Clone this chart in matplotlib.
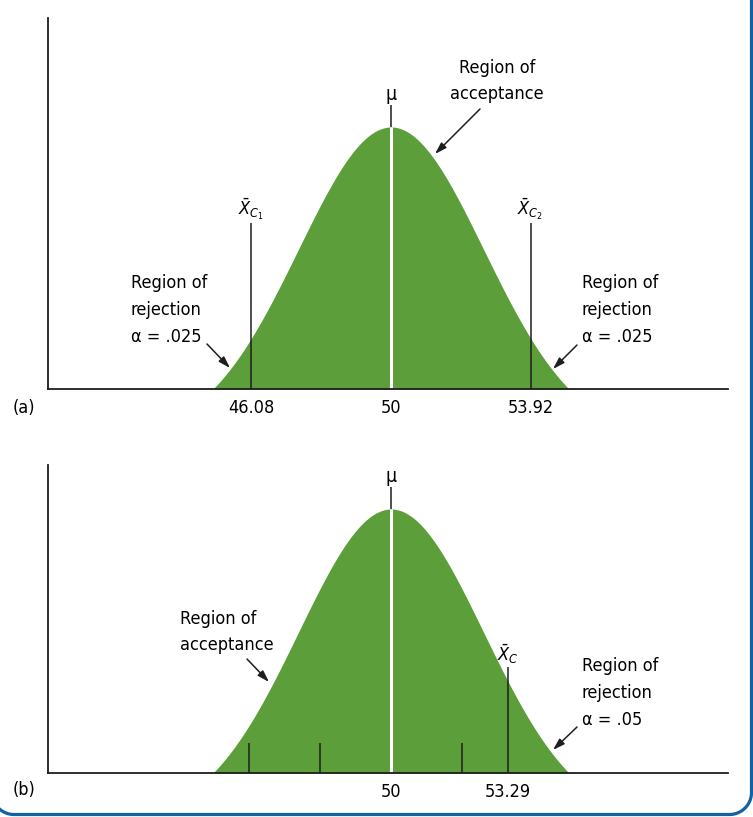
import numpy as np
import matplotlib
matplotlib.use("Agg")
import matplotlib.pyplot as plt
from matplotlib.lines import Line2D
from matplotlib.patches import FancyArrowPatch
from matplotlib.transforms import Affine2D

FAMILY = ["DejaVu Sans Condensed", "Liberation Sans Narrow", "DejaVu Sans"]
plt.rcParams["font.family"] = FAMILY
plt.rcParams["font.stretch"] = "condensed"
plt.rcParams["mathtext.fontset"] = "custom"
plt.rcParams["mathtext.rm"] = "DejaVu Sans Condensed"
plt.rcParams["mathtext.it"] = "DejaVu Sans Condensed:italic"

# sampling distribution of the mean, drawn schematically between 45 and 55
MU = 50.0
SHAPE_WIDTH = 2.6
CURVE_RANGE = (45.0, 55.0)

# (a) two-tailed test
CRIT_A = [46.08, 53.92]
CRIT_A_LABELS = [r"$\bar{X}_{C_1}$", r"$\bar{X}_{C_2}$"]
TICKS_A = [46.08, 50, 53.92]
TICK_LABELS_A = ["46.08", "50", "53.92"]

# (b) one-tailed test
CRIT_B = 53.29
MINOR_B = [46, 48, 52]
TICKS_B = [50, 53.29]
TICK_LABELS_B = ["50", "53.29"]

GREEN = "#5b9e3a"
INK = "#1e1e1e"
BLUE = "#1262a3"

W, H = 753, 817
PX_PER_UNIT = 35.6
X_LO = MU - (391 - 48) / PX_PER_UNIT
X_HI = MU + (728 - 391) / PX_PER_UNIT
FS = 13

xs = np.linspace(CURVE_RANGE[0], CURVE_RANGE[1], 500)
dens = np.exp(-0.5 * ((xs - MU) / SHAPE_WIDTH) ** 2)
edge = np.exp(-0.5 * ((CURVE_RANGE[1] - MU) / SHAPE_WIDTH) ** 2)
curve = (dens - edge) / (1 - edge)

fig = plt.figure(figsize=(W / 100, H / 100), dpi=100)
# pixel coordinates, origin top-left
pix = Affine2D().scale(1 / W, -1 / H).translate(0, 1) + fig.transFigure


def panel(top, bottom, peak, ticks, labels):
    ax = fig.add_axes([48 / W, 1 - bottom / H, (728 - 48) / W, (bottom - top) / H])
    ax.set_xlim(X_LO, X_HI)
    ax.set_ylim(0, (bottom - top) / (bottom - peak))
    ax.fill_between(xs, 0, curve, color=GREEN, lw=0)
    ax.vlines(MU, 0, 1, color="white", lw=2.2)
    ax.vlines(MU, 1, 1 + 22 / (bottom - peak), color=INK, lw=1.1)
    ax.annotate("μ", xy=(MU, 1 + 22 / (bottom - peak)), xytext=(0, 1),
                textcoords="offset points", ha="center", va="bottom", fontsize=FS + 1)
    for s in ["top", "right"]:
        ax.spines[s].set_visible(False)
    for s in ["left", "bottom"]:
        ax.spines[s].set_linewidth(1.3)
        ax.spines[s].set_color(INK)
    ax.set_yticks([])
    ax.set_xticks(ticks, labels, fontsize=FS)
    ax.tick_params(axis="x", length=0, pad=7)
    return ax, bottom - peak


ax_a, h_a = panel(18, 389, 127, TICKS_A, TICK_LABELS_A)
top_a = 166 / h_a
for v, lab in zip(CRIT_A, CRIT_A_LABELS):
    ax_a.vlines(v, 0, top_a, color=INK, lw=1.1)
    ax_a.annotate(lab, xy=(v, top_a), xytext=(0, 1), textcoords="offset points",
                  ha="center", va="bottom", fontsize=13)

ax_b, h_b = panel(465, 773, 509, TICKS_B, TICK_LABELS_B)
ax_b.vlines(MINOR_B, 0, 30 / h_b, color=INK, lw=1.1)
top_b = 106 / h_b
ax_b.vlines(CRIT_B, 0, top_b, color=INK, lw=1.1)
ax_b.annotate(r"$\bar{X}_C$", xy=(CRIT_B, top_b), xytext=(0, 1),
              textcoords="offset points", ha="center", va="bottom", fontsize=13)

txt = dict(transform=pix, fontsize=FS, va="center", linespacing=1.62)
fig.text(497, 81, "Region of\nacceptance", ha="center", multialignment="center", **txt)
fig.text(131, 310, "Region of\nrejection\nα = .025", ha="left", **txt)
fig.text(582, 310, "Region of\nrejection\nα = .025", ha="left", **txt)
fig.text(180, 632, "Region of\nacceptance", ha="left", **txt)
fig.text(582, 693, "Region of\nrejection\nα = .05", ha="left", **txt)
fig.text(24, 408, "(a)", ha="center", **txt)
fig.text(24, 790, "(b)", ha="center", **txt)

arrows = [((480, 109), (435, 154)),
          ((207, 344), (230, 368)),
          ((577, 345), (553, 369)),
          ((247, 659), (269, 682)),
          ((577, 727), (553, 750))]
for tail, head in arrows:
    fig.add_artist(FancyArrowPatch(tail, head, transform=pix,
                                   arrowstyle="-|>,head_length=0.7,head_width=0.22",
                                   mutation_scale=10, lw=1.1, color=INK,
                                   shrinkA=0, shrinkB=0))

# frame: right side and bottom with rounded corners
R, X0, X1, YB = 22, -8, 751.5, 814.5
t = np.linspace(0, np.pi / 2, 30)
fx = np.concatenate([[X1], X1 - R + R * np.cos(t), X0 + R - R * np.sin(t), [X0]])
fy = np.concatenate([[-5], YB - R + R * np.sin(t), YB - R + R * np.cos(t), [-5]])
fig.add_artist(Line2D(fx, fy, transform=pix, color=BLUE, lw=2.3,
                      solid_joinstyle="round"))

fig.savefig("out.png", dpi=100)
